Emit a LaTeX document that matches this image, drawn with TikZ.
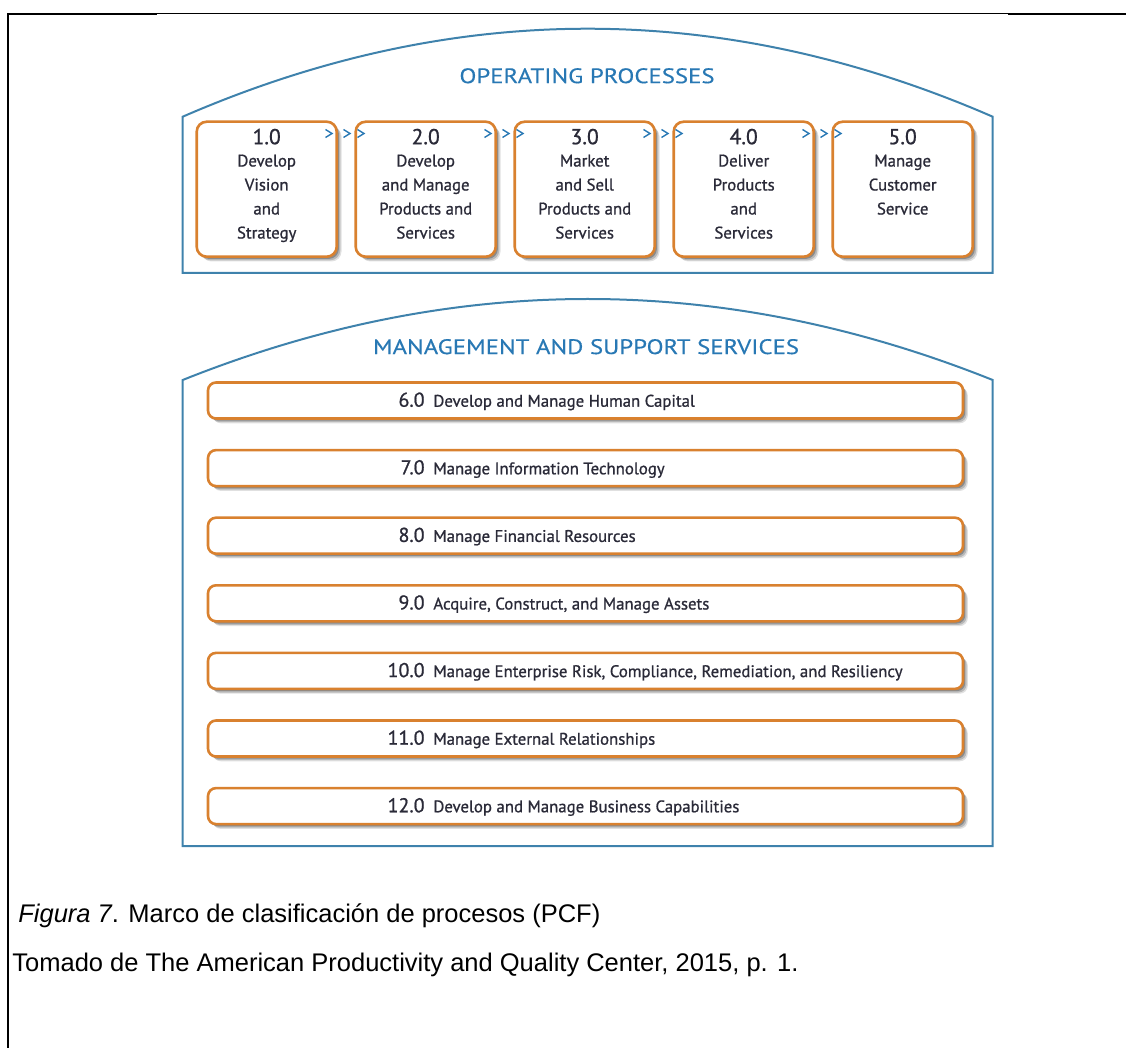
\documentclass[tikz,border=0pt]{standalone}
\usepackage{fontspec}
\setmainfont{Liberation Sans}
\newfontfamily\gill[FakeBold=0.9]{PT Sans}
\newfontfamily\gilltitle[FakeBold=0.3]{PT Sans}
\usetikzlibrary{shadows}
\definecolor{frameblue}{HTML}{3F82AC}
\definecolor{titleblue}{HTML}{2878B4}
\definecolor{boxorange}{HTML}{D9812F}
\definecolor{boxtext}{HTML}{2A2A38}
\setlength{\tabcolsep}{0pt}
\newcommand{\widecaps}[1]{\scalebox{1.18}[1]{#1}}
\tikzset{
  container/.style={draw=frameblue, line width=1pt, line join=miter},
  boxshadow/.style={
    drop shadow={shadow xshift=2.4pt, shadow yshift=-2.4pt, fill=black, opacity=.12},
    drop shadow={shadow xshift=1.8pt, shadow yshift=-1.8pt, fill=black, opacity=.18},
    drop shadow={shadow xshift=1.1pt, shadow yshift=-1.1pt, fill=black, opacity=.25}},
  opbox/.style={draw=boxorange, line width=1.3pt, fill=white, rounded corners=5pt,
    minimum width=70pt, minimum height=67.5pt, inner sep=0pt, boxshadow},
  mgbox/.style={draw=boxorange, line width=1.3pt, fill=white, rounded corners=4pt,
    minimum width=377.5pt, minimum height=18pt, inner sep=0pt, boxshadow},
  sectitle/.style={font=\gilltitle\fontsize{10.5}{12}\selectfont, text=titleblue, inner sep=0pt},
  opnum/.style={anchor=base, font=\gill\fontsize{10.8}{12}\selectfont, text=boxtext, inner sep=0pt},
  optext/.style={anchor=base, font=\gill\fontsize{8.4}{12}\selectfont, text=boxtext, inner sep=0pt},
  mgnum/.style={anchor=base east, font=\gill\fontsize{10}{12}\selectfont, text=boxtext, inner sep=0pt},
  mgtext/.style={anchor=base west, font=\gill\fontsize{8.4}{12}\selectfont, text=boxtext, inner sep=0pt},
  chev/.style={draw=titleblue, line width=0.7pt, line join=miter},
  caption/.style={anchor=base west, font=\fontsize{12.75}{15}\selectfont, text=black, inner sep=0pt},
  rule/.style={draw=black, line cap=butt}
}
\begin{document}
\begin{tikzpicture}[x=0.5pt, y=-0.5pt]
\useasboundingbox (0,0) rectangle (1126,1048);

% page frame (top and left rules)
\draw[rule, line width=0.85pt] (7,14) -- (157,14);
\draw[rule, line width=0.55pt] (157,13.6) -- (1008,13.6);
\draw[rule, line width=0.85pt] (1008,14) -- (1126,14);
\draw[rule, line width=0.85pt] (8,13.2) -- (8,1048);

% operating processes container
\draw[container] (182.7,273) -- (182.7,116.7)
  .. controls (452.7,-0.6) and (722.7,-0.6) .. (992.7,116.7)
  -- (992.7,273) -- cycle;
\node[sectitle] (optitle) at (587,75.8) {\widecaps{OPERATING PROCESSES}};

% process boxes
\foreach \i/\cx in {1/266.7, 2/425.7, 3/584.7, 4/743.7, 5/902.7}{
  \node[opbox] (p\i) at (\cx,189.2) {};
}
\node[opnum] (p1n) at (266.7,144.2) {1.0};
\node[opnum] (p2n) at (425.7,144.2) {2.0};
\node[opnum] (p3n) at (584.7,144.2) {3.0};
\node[opnum] (p4n) at (743.7,144.2) {4.0};
\node[opnum] (p5n) at (902.7,144.2) {5.0};
\node[optext] (p1t) at (266.7,166.5) {\begin{tabular}[t]{c}Develop\\Vision\\and\\Strategy\end{tabular}};
\node[optext] (p2t) at (425.7,166.5) {\begin{tabular}[t]{c}Develop\\and Manage\\Products and\\Services\end{tabular}};
\node[optext] (p3t) at (584.7,166.5) {\begin{tabular}[t]{c}Market\\and Sell\\Products and\\Services\end{tabular}};
\node[optext] (p4t) at (743.7,166.5) {\begin{tabular}[t]{c}Deliver\\Products\\and\\Services\end{tabular}};
\node[optext] (p5t) at (902.7,166.5) {\begin{tabular}[t]{c}Manage\\Customer\\Service\end{tabular}};

% flow chevrons between process boxes
\foreach \r in {336.7, 495.7, 654.7, 813.7}{
  \foreach \d in {-8.2, 9.8, 23.8}{
    \draw[chev] (\r+\d-3,129.5) -- (\r+\d+3.5,133.5) -- (\r+\d-3,137.5);
  }
}

% management and support services container
\draw[container] (182.7,846) -- (182.7,380)
  .. controls (452.7,272) and (722.7,272) .. (992.7,380)
  -- (992.7,846) -- cycle;
\node[sectitle] (mgtitle) at (586,346.7) {\widecaps{MANAGEMENT AND SUPPORT SERVICES}};

% service rows
\foreach \k in {0,...,6}{
  \node[mgbox] (m\k) at (585.5,400.5+67.6*\k) {};
}
\node[mgnum] (m0n) at (425,406.7) {6.0};
\node[mgtext] (m0t) at (433,406.7) {Develop and Manage Human Capital};
\node[mgnum] (m1n) at (425,474.3) {7.0};
\node[mgtext] (m1t) at (433,474.3) {Manage Information Technology};
\node[mgnum] (m2n) at (425,541.9) {8.0};
\node[mgtext] (m2t) at (433,541.9) {Manage Financial Resources};
\node[mgnum] (m3n) at (425,609.5) {9.0};
\node[mgtext] (m3t) at (433,609.5) {Acquire, Construct, and Manage Assets};
\node[mgnum] (m4n) at (425,677.1) {10.0};
\node[mgtext] (m4t) at (433,677.1) {Manage Enterprise Risk, Compliance, Remediation, and Resiliency};
\node[mgnum] (m5n) at (425,744.7) {11.0};
\node[mgtext] (m5t) at (433,744.7) {Manage External Relationships};
\node[mgnum] (m6n) at (425,812.3) {12.0};
\node[mgtext] (m6t) at (433,812.3) {Develop and Manage Business Capabilities};

% caption
\node[caption] (cap1) at (18,922) {\textit{Figura 7}. Marco de clasificación de procesos (PCF)};
\node[caption] (cap2) at (12,971) {Tomado de The American Productivity and Quality Center, 2015, p. 1.};
\end{tikzpicture}
\end{document}
